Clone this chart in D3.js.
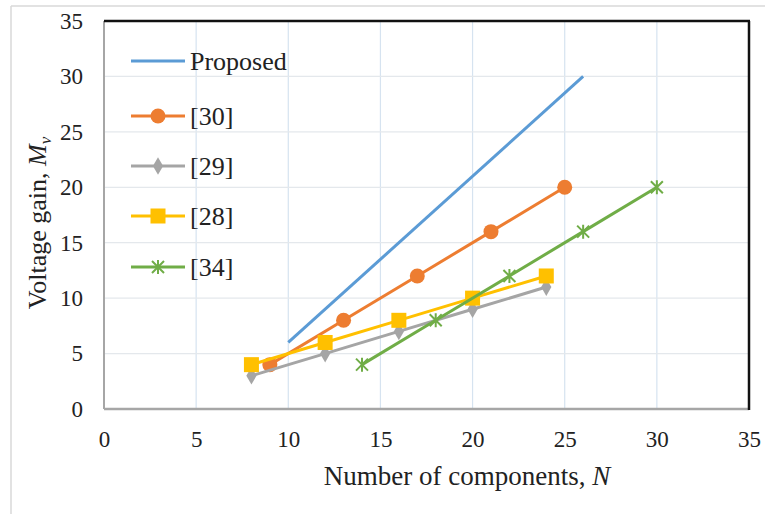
<!DOCTYPE html>
<html>
<head>
<meta charset="utf-8">
<script src="https://cdn.jsdelivr.net/npm/d3@7"></script>
<style>
body { margin: 0; background: #fff; }
svg text { font-family: "Liberation Serif", "Tinos", "DejaVu Serif", serif !important; fill: #222; }
</style>
</head>
<body>
<svg id="chart" width="765" height="514"></svg>
<script>
// data
var seriesNames = ["Proposed", "[30]", "[29]", "[28]", "[34]"];
var seriesColors = ["#5b9bd5", "#ed7d31", "#a5a5a5", "#ffc000", "#70ad47"];
var seriesMarkers = ["none", "circle", "diamond", "square", "star"];
var proposedN = [10, 26];
var proposedGain = [6, 30];
var ref30N = [9, 13, 17, 21, 25];
var ref30Gain = [4, 8, 12, 16, 20];
var ref29N = [8, 12, 16, 20, 24];
var ref29Gain = [3, 5, 7, 9, 11];
var ref28N = [8, 12, 16, 20, 24];
var ref28Gain = [4, 6, 8, 10, 12];
var ref34N = [14, 18, 22, 26, 30];
var ref34Gain = [4, 8, 12, 16, 20];
var xTicks = [0, 5, 10, 15, 20, 25, 30, 35];
var yTicks = [0, 5, 10, 15, 20, 25, 30, 35];

var zip = function(xs, ys) { return xs.map(function(x, i) { return {n: x, g: ys[i]}; }); };
var series = [
  zip(proposedN, proposedGain),
  zip(ref30N, ref30Gain),
  zip(ref29N, ref29Gain),
  zip(ref28N, ref28Gain),
  zip(ref34N, ref34Gain)
];

var plot = {left: 104, right: 749, top: 21, bottom: 409};
var svg = d3.select("#chart");

// outer light frame
svg.append("line").attr("x1", 11).attr("x2", 11).attr("y1", 6).attr("y2", 514)
  .attr("stroke", "#d9d9d9").attr("stroke-width", 1.5);
svg.append("line").attr("x1", 11).attr("x2", 765).attr("y1", 6).attr("y2", 6)
  .attr("stroke", "#d9d9d9").attr("stroke-width", 1.5);

var x = d3.scaleLinear().domain([0, 35]).range([plot.left, plot.right]);
var y = d3.scaleLinear().domain([0, 35]).range([plot.bottom, plot.top]);

// gridlines
svg.append("g").selectAll("line").data(xTicks.slice(1, -1)).enter().append("line")
  .attr("x1", function(d) { return x(d); }).attr("x2", function(d) { return x(d); })
  .attr("y1", plot.top).attr("y2", plot.bottom)
  .attr("stroke", "#d6e3f0").attr("stroke-width", 1.2);
svg.append("g").selectAll("line").data(yTicks.slice(1, -1)).enter().append("line")
  .attr("x1", plot.left).attr("x2", plot.right)
  .attr("y1", function(d) { return y(d); }).attr("y2", function(d) { return y(d); })
  .attr("stroke", "#e4e8ec").attr("stroke-width", 1.2);

// plot frame: gray left/bottom, black top/right
svg.append("line").attr("x1", plot.left).attr("x2", plot.left).attr("y1", plot.top).attr("y2", plot.bottom)
  .attr("stroke", "#a6a6a6").attr("stroke-width", 2);
svg.append("line").attr("x1", plot.left).attr("x2", plot.right).attr("y1", plot.bottom).attr("y2", plot.bottom)
  .attr("stroke", "#a6a6a6").attr("stroke-width", 2.5);
svg.append("line").attr("x1", plot.left).attr("x2", plot.right + 1).attr("y1", plot.top).attr("y2", plot.top)
  .attr("stroke", "#111").attr("stroke-width", 2.5);
svg.append("line").attr("x1", plot.right).attr("x2", plot.right).attr("y1", plot.top).attr("y2", plot.bottom + 1)
  .attr("stroke", "#111").attr("stroke-width", 2.5);

// tick labels
var xAxis = d3.axisBottom(x).tickValues(xTicks).tickSize(0).tickPadding(22);
var gx = svg.append("g").attr("transform", "translate(0," + plot.bottom + ")").call(xAxis);
gx.attr("font-family", null);
gx.select(".domain").remove();
gx.selectAll("text").style("font-size", "23px").attr("fill", "#222");

var yAxis = d3.axisLeft(y).tickValues(yTicks).tickSize(0).tickPadding(21);
var gy = svg.append("g").attr("transform", "translate(" + plot.left + ",0)").call(yAxis);
gy.attr("font-family", null);
gy.select(".domain").remove();
gy.selectAll("text").style("font-size", "23px").attr("fill", "#222");

// axis titles
var xt = svg.append("text").attr("x", 467).attr("y", 485).attr("text-anchor", "middle")
  .style("font-size", "27px");
xt.append("tspan").text("Number of components, ");
xt.append("tspan").style("font-style", "italic").text("N");

var yt = svg.append("text").attr("transform", "translate(46,223) rotate(-90)")
  .attr("text-anchor", "middle").style("font-size", "26px");
yt.append("tspan").text("Voltage gain, ");
yt.append("tspan").style("font-style", "italic").text("M");
yt.append("tspan").style("font-style", "italic").style("font-size", "17px").attr("dy", 5).text("v");

// markers
var drawMarker = function(g, type, color) {
  if (type == "circle") {
    g.append("circle").attr("r", 7.5).attr("fill", color);
  } else if (type == "diamond") {
    g.append("path").attr("d", d3.symbol().type(d3.symbolDiamond).size(90)).attr("fill", color);
  } else if (type == "square") {
    g.append("rect").attr("x", -7.5).attr("y", -7.5).attr("width", 15).attr("height", 15).attr("fill", color);
  } else if (type == "star") {
    g.append("path").attr("d", "M-6,-6L6,6M-6,6L6,-6M0,-7L0,7")
      .attr("stroke", color).attr("stroke-width", 2).attr("fill", "none");
  }
};

var line = d3.line().x(function(d) { return x(d.n); }).y(function(d) { return y(d.g); });

series.forEach(function(pts, i) {
  var g = svg.append("g").attr("class", "series");
  g.append("path").datum(pts).attr("d", line)
    .attr("fill", "none").attr("stroke", seriesColors[i]).attr("stroke-width", 3)
    .attr("stroke-linejoin", "round");
  if (seriesMarkers[i] != "none") {
    g.selectAll(".mk").data(pts).enter().append("g").attr("class", "mk")
      .attr("transform", function(d) { return "translate(" + x(d.n) + "," + y(d.g) + ")"; })
      .each(function() { drawMarker(d3.select(this), seriesMarkers[i], seriesColors[i]); });
  }
});

// legend
var legendY = [61, 116, 166, 216, 267];
var leg = svg.append("g").selectAll("g").data(seriesNames).enter().append("g")
  .attr("transform", function(d, i) { return "translate(131," + legendY[i] + ")"; });
leg.append("line").attr("x1", 0).attr("x2", 54).attr("y1", 0).attr("y2", 0)
  .attr("stroke", function(d, i) { return seriesColors[i]; }).attr("stroke-width", 3);
leg.each(function(d, i) {
  var m = d3.select(this).append("g").attr("transform", "translate(27,0)");
  drawMarker(m, seriesMarkers[i], seriesColors[i]);
});
leg.append("text").attr("x", 59).attr("y", 9).style("font-size", "26px").text(function(d) { return d; });
</script>
</body>
</html>
